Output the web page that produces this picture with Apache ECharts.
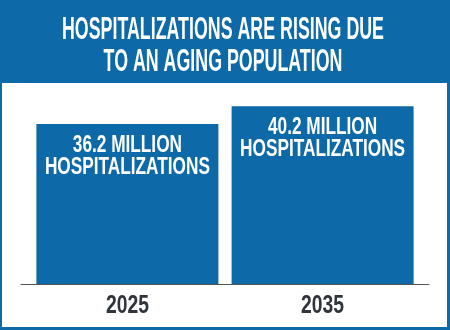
<!DOCTYPE html>
<html><head><meta charset="utf-8">
<script src="https://cdn.jsdelivr.net/npm/echarts@6/dist/echarts.min.js"></script>
<style>html,body{margin:0;padding:0;background:#0d69a7}#c{width:450px;height:330px}</style>
</head><body><div id="c"></div>
<script>
const titleLines = ['HOSPITALIZATIONS ARE RISING DUE', 'TO AN AGING POPULATION'];
const years = ['2025', '2035'];
const values = [36.2, 40.2];
const unitText = 'MILLION';
const subText = 'HOSPITALIZATIONS';

const BLUE = '#0d69a7';
const FAMILY = "'Liberation Sans', Arial, sans-serif";
const ctx = document.createElement('canvas').getContext('2d');
function setFont(size) { ctx.font = 'bold ' + size + 'px ' + FAMILY; }
function measure(t, size) { setFont(size); ctx.textBaseline = 'alphabetic'; return ctx.measureText(t).width; }
// distance from a line box top to the cap top (zrender draws each line with a middle baseline)
function capOffset(size, lh) { setFont(size); ctx.textBaseline = 'middle'; const a = ctx.measureText('H').actualBoundingBoxAscent; ctx.textBaseline = 'alphabetic'; return lh / 2 - a; }

const TITLE_FS = 30.7, TITLE_LH = 32, BAR_FS = 24.4, BAR_LH = 22.4, YEAR_FS = 25, YEAR_LH = 25;
const sTitle = 322 / measure(titleLines[0], TITLE_FS);
const sBar = 165 / measure(subText, BAR_FS);
const sYear = 43 / measure(years[0], YEAR_FS);
const titleY = 17.3 - capOffset(TITLE_FS, TITLE_LH);
const barOff = 10.8 - capOffset(BAR_FS, BAR_LH);
const yearOff = 11 - capOffset(YEAR_FS, YEAR_LH);

const chart = echarts.init(document.getElementById('c'));
const pts = values.map((v, i) => [i, v]);

function txt(x, y, s, text, fs, lh, color) {
  return { type: 'text', x: x, y: y, scaleX: s,
    style: { text: text, fill: color, fontFamily: FAMILY, fontWeight: 'bold', fontSize: fs, lineHeight: lh,
             align: 'center', verticalAlign: 'top', textAlign: 'center', textVerticalAlign: 'top' } };
}

chart.setOption({
  backgroundColor: BLUE,
  animation: false,
  graphic: [
    { type: 'rect', z: -10, shape: { x: 2, y: 83, width: 445, height: 244 }, style: { fill: '#ffffff' } },
    Object.assign(txt(223, titleY, sTitle, titleLines.join('\n'), TITLE_FS, TITLE_LH, '#ffffff'), { z: 10 })
  ],
  grid: { left: 21, right: 21, top: 85, bottom: 46 },
  xAxis: {
    type: 'value', min: -0.545, max: 1.545,
    splitLine: { show: false }, axisTick: { show: false }, axisLabel: { show: false },
    axisLine: { show: true, lineStyle: { color: '#555', width: 1 } }
  },
  yAxis: { type: 'value', min: 0, max: 45, show: false, splitLine: { show: false } },
  series: [
    { type: 'bar', data: pts, barWidth: 182, itemStyle: { color: BLUE }, z: 2 },
    { type: 'custom', data: pts, z: 5, silent: true,
      renderItem: (params, api) => {
        const i = api.value(0), v = api.value(1);
        const top = api.coord([i, v]);
        const base = api.coord([i, 0]);
        return { type: 'group', children: [
          txt(top[0], top[1] + barOff, sBar, v.toFixed(1) + ' ' + unitText + '\n' + subText, BAR_FS, BAR_LH, '#ffffff'),
          txt(base[0], base[1] + yearOff, sYear, years[i], YEAR_FS, YEAR_LH, '#30343b')
        ] };
      } }
  ]
});
</script></body></html>
